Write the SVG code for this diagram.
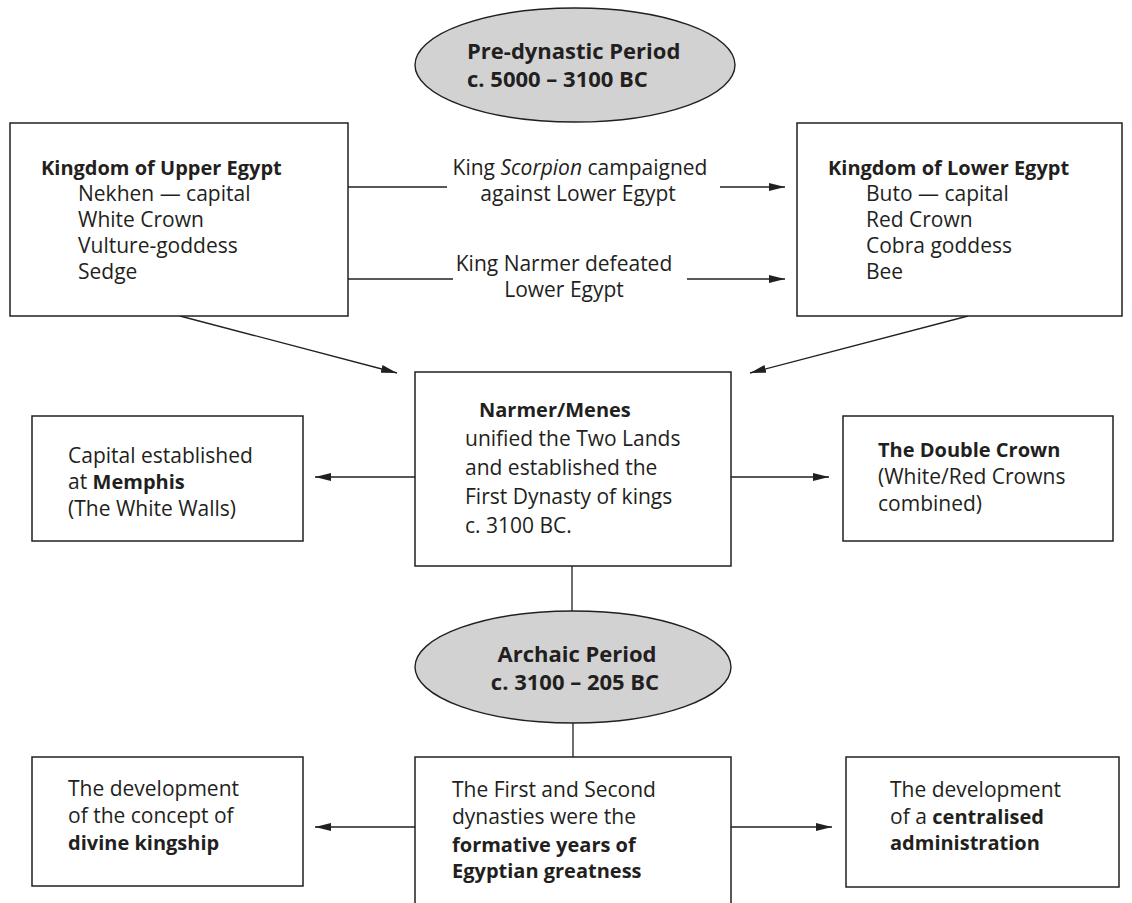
<svg xmlns="http://www.w3.org/2000/svg" width="1132" height="903" viewBox="0 0 1132 903">
<defs>
<style>
.box{fill:#fff;stroke:#231f20;stroke-width:1.5}
.ell{fill:#d2d2d2;stroke:#231f20;stroke-width:1.4}
.ln{stroke:#231f20;stroke-width:1.3;fill:none}
text{font-family:"Open Sans","Noto Sans","Liberation Sans",sans-serif;font-size:21px;fill:#231f20}
.b{font-weight:bold;font-size:20px}
.t{font-weight:bold;font-size:22px}
.c{text-anchor:middle}
</style>
<marker id="ah" markerUnits="userSpaceOnUse" markerWidth="17" markerHeight="9" refX="16" refY="4" orient="auto">
<path d="M0,0 L16,4 L0,8 Z" fill="#231f20"/>
</marker>
</defs>
<rect width="1132" height="903" fill="#fff"/>

<g id="connectors">
<line class="ln" x1="348" y1="187" x2="447" y2="187"/>
<line class="ln" x1="720" y1="187" x2="785" y2="187" marker-end="url(#ah)"/>
<line class="ln" x1="348" y1="279" x2="453" y2="279"/>
<line class="ln" x1="687" y1="279" x2="785" y2="279" marker-end="url(#ah)"/>
<line class="ln" x1="180" y1="316" x2="397" y2="373" marker-end="url(#ah)"/>
<line class="ln" x1="968" y1="316" x2="750" y2="373" marker-end="url(#ah)"/>
<line class="ln" x1="415" y1="477" x2="315" y2="477" marker-end="url(#ah)"/>
<line class="ln" x1="731" y1="477" x2="829" y2="477" marker-end="url(#ah)"/>
<line class="ln" x1="572" y1="566" x2="572" y2="611"/>
<line class="ln" x1="573" y1="723" x2="573" y2="757"/>
<line class="ln" x1="415" y1="827" x2="315" y2="827" marker-end="url(#ah)"/>
<line class="ln" x1="731" y1="827" x2="832" y2="827" marker-end="url(#ah)"/>
<text class="c" x="580" y="175">King <tspan font-style="italic">Scorpion</tspan> campaigned</text>
<text class="c" x="578" y="201">against Lower Egypt</text>
<text class="c" x="564" y="271">King Narmer defeated</text>
<text class="c" x="564" y="297">Lower Egypt</text>
</g>

<g id="predynastic">
<ellipse class="ell" cx="575" cy="65" rx="160" ry="57"/>
<text class="t" x="467" y="59">Pre-dynastic Period</text>
<text class="t" x="467" y="87">c. 5000 – 3100 BC</text>
</g>

<g id="upper-egypt">
<rect class="box" x="10" y="123" width="338" height="193"/>
<text class="b" x="41" y="175">Kingdom of Upper Egypt</text>
<text x="78" y="201">Nekhen — capital</text>
<text x="78" y="227">White Crown</text>
<text x="78" y="253">Vulture-goddess</text>
<text x="78" y="279">Sedge</text>
</g>

<g id="lower-egypt">
<rect class="box" x="797" y="123" width="325" height="193"/>
<text class="b" x="828" y="175">Kingdom of Lower Egypt</text>
<text x="866" y="201">Buto — capital</text>
<text x="866" y="227">Red Crown</text>
<text x="866" y="253">Cobra goddess</text>
<text x="866" y="279">Bee</text>
</g>

<g id="narmer">
<rect class="box" x="415" y="372" width="316" height="194"/>
<text class="b" x="479" y="417">Narmer/Menes</text>
<text x="465" y="446">unified the Two Lands</text>
<text x="465" y="475">and established the</text>
<text x="465" y="504">First Dynasty of kings</text>
<text x="465" y="533">c. 3100 BC.</text>
</g>

<g id="memphis">
<rect class="box" x="32" y="416" width="271" height="125"/>
<text x="68" y="463">Capital established</text>
<text x="68" y="489">at <tspan class="b">Memphis</tspan></text>
<text x="68" y="516">(The White Walls)</text>
</g>

<g id="double-crown">
<rect class="box" x="843" y="416" width="270" height="125"/>
<text class="b" x="878" y="457">The Double Crown</text>
<text x="878" y="484">(White/Red Crowns</text>
<text x="878" y="511">combined)</text>
</g>

<g id="archaic">
<ellipse class="ell" cx="573" cy="667" rx="158" ry="56"/>
<text class="t c" x="577" y="662">Archaic Period</text>
<text class="t c" x="575" y="690">c. 3100 – 205 BC</text>
</g>

<g id="divine-kingship">
<rect class="box" x="32" y="757" width="271" height="129"/>
<text x="68" y="796">The development</text>
<text x="68" y="823">of the concept of</text>
<text class="b" x="68" y="850">divine kingship</text>
</g>

<g id="formative">
<rect class="box" x="415" y="757" width="316" height="160"/>
<text x="452" y="797">The First and Second</text>
<text x="452" y="824">dynasties were the</text>
<text class="b" x="452" y="852">formative years of</text>
<text class="b" x="452" y="878">Egyptian greatness</text>
</g>

<g id="administration">
<rect class="box" x="846" y="757" width="273" height="130"/>
<text x="890" y="797">The development</text>
<text x="890" y="824">of a <tspan class="b">centralised</tspan></text>
<text class="b" x="890" y="850">administration</text>
</g>
</svg>
